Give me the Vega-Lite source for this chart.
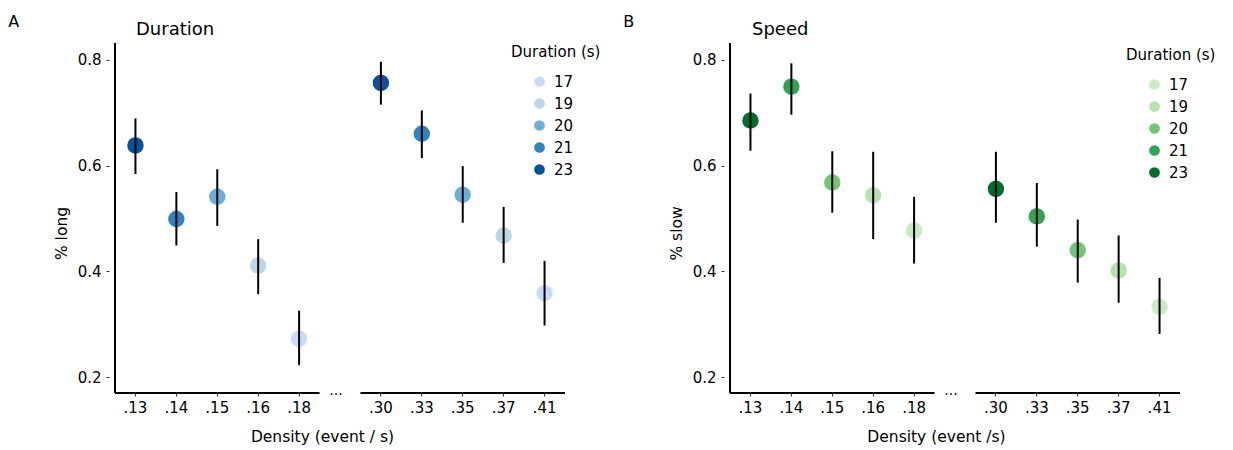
{
  "$schema": "https://vega.github.io/schema/vega-lite/v6.json",
  "padding": {"left": 8, "top": 14, "right": 0, "bottom": 0},
  "background": "white",
  "config": {
    "font": "DejaVu Sans",
    "view": {"stroke": null},
    "axis": {"grid": false, "labelColor": "black", "titleColor": "black", "tickColor": "#333", "domainColor": "black"},
    "legend": {"labelColor": "black", "titleColor": "black"}
  },
  "datasets": {
    "duration": [
      {"density": ".13", "dur": 23, "mean": 0.638, "lo": 0.584, "hi": 0.689},
      {"density": ".14", "dur": 21, "mean": 0.499, "lo": 0.449, "hi": 0.550},
      {"density": ".15", "dur": 20, "mean": 0.541, "lo": 0.486, "hi": 0.593},
      {"density": ".16", "dur": 19, "mean": 0.411, "lo": 0.357, "hi": 0.461},
      {"density": ".18", "dur": 17, "mean": 0.273, "lo": 0.223, "hi": 0.326},
      {"density": ".30", "dur": 23, "mean": 0.756, "lo": 0.715, "hi": 0.796},
      {"density": ".33", "dur": 21, "mean": 0.660, "lo": 0.614, "hi": 0.704},
      {"density": ".35", "dur": 20, "mean": 0.545, "lo": 0.492, "hi": 0.599},
      {"density": ".37", "dur": 19, "mean": 0.468, "lo": 0.416, "hi": 0.522},
      {"density": ".41", "dur": 17, "mean": 0.359, "lo": 0.298, "hi": 0.420}
    ],
    "speed": [
      {"density": ".13", "dur": 23, "mean": 0.685, "lo": 0.628, "hi": 0.736},
      {"density": ".14", "dur": 21, "mean": 0.749, "lo": 0.696, "hi": 0.793},
      {"density": ".15", "dur": 20, "mean": 0.568, "lo": 0.511, "hi": 0.627},
      {"density": ".16", "dur": 19, "mean": 0.544, "lo": 0.461, "hi": 0.626},
      {"density": ".18", "dur": 17, "mean": 0.477, "lo": 0.415, "hi": 0.541},
      {"density": ".30", "dur": 23, "mean": 0.556, "lo": 0.492, "hi": 0.626},
      {"density": ".33", "dur": 21, "mean": 0.504, "lo": 0.447, "hi": 0.567},
      {"density": ".35", "dur": 20, "mean": 0.440, "lo": 0.379, "hi": 0.498},
      {"density": ".37", "dur": 19, "mean": 0.402, "lo": 0.341, "hi": 0.468},
      {"density": ".41", "dur": 17, "mean": 0.333, "lo": 0.282, "hi": 0.388}
    ]
  },
  "spacing": 22,
  "resolve": {"scale": {"color": "independent", "x": "independent", "y": "independent"}, "legend": {"color": "independent"}},
  "hconcat": [
    {
      "title": {"text": "A", "anchor": "start", "fontSize": 16, "fontWeight": "normal", "dx": -46, "offset": -22, "baseline": "alphabetic"},
      "vconcat": [
        {
          "width": 450,
          "height": 350,
          "title": {"text": "Duration", "anchor": "start", "frame": "group", "dx": 21, "fontSize": 18, "fontWeight": "normal", "baseline": "alphabetic", "offset": -11},
          "data": {"name": "duration"},
          "encoding": {
            "x": {
              "field": "density", "type": "nominal",
              "scale": {"type": "band", "domain": [".13", ".14", ".15", ".16", ".18", "gap", ".30", ".33", ".35", ".37", ".41"], "paddingInner": 0, "paddingOuter": 0},
              "axis": {"values": [".13", ".14", ".15", ".16", ".18", ".30", ".33", ".35", ".37", ".41"], "domain": false, "labelAngle": 0, "tickSize": 3, "labelPadding": 4, "labelFontSize": 15, "title": "Density (event / s)", "titleFontSize": 15.5, "titleFontWeight": "normal", "titlePadding": 14, "titleX": 207}
            }
          },
          "layer": [
            {
              "mark": {"type": "circle", "size": 270, "opacity": 1},
              "encoding": {
                "y": {"field": "mean", "type": "quantitative", "scale": {"domain": [0.1705, 0.8314], "nice": false, "zero": false},
                  "axis": {"values": [0.2, 0.4, 0.6, 0.8], "format": ".1f", "title": "% long", "titleFontSize": 15.5, "titleFontWeight": "normal", "titlePadding": 8, "labelFontSize": 15, "tickSize": 3, "domain": false, "offset": 6, "labelPadding": 5, "titleY": 190}},
                "color": {"field": "dur", "type": "ordinal",
                  "scale": {"domain": [17, 19, 20, 21, 23], "range": ["#cadbfa", "#bdd7e7", "#6baed6", "#3182bd", "#08519c"]},
                  "legend": {"orient": "none", "legendX": 396, "legendY": 2, "title": "Duration (s)", "titleFontSize": 15, "titleFontWeight": "normal", "labelFontSize": 15, "symbolSize": 115, "symbolType": "circle", "symbolOffset": 21, "labelOffset": 7, "rowPadding": 6, "titlePadding": 14, "padding": 0}}
              }
            },
            {
              "mark": {"type": "rule", "strokeWidth": 2, "color": "black"},
              "encoding": {"y": {"field": "lo", "type": "quantitative"}, "y2": {"field": "hi"}}
            },
            {
              "data": {"values": [{}]},
              "mark": {"type": "rule", "strokeWidth": 2, "color": "black"},
              "encoding": {"x": {"datum": ".13", "bandPosition": 0}, "y": {"datum": 0.1705, "type": "quantitative"}, "y2": {"datum": 0.8314}}
            },
            {
              "data": {"values": [{}]},
              "mark": {"type": "rule", "strokeWidth": 1.8, "color": "black"},
              "encoding": {"x": {"datum": ".13", "bandPosition": 0}, "x2": {"datum": ".18", "bandPosition": 1}, "y": {"datum": 0.1705, "type": "quantitative"}}
            },
            {
              "data": {"values": [{}]},
              "mark": {"type": "rule", "strokeWidth": 1.8, "color": "black"},
              "encoding": {"x": {"datum": ".30", "bandPosition": 0}, "x2": {"datum": ".41", "bandPosition": 1}, "y": {"datum": 0.1705, "type": "quantitative"}}
            },
            {
              "data": {"values": [{}]},
              "mark": {"type": "text", "text": "...", "fontSize": 14, "baseline": "alphabetic", "dx": -4, "dy": 2, "color": "black"},
              "encoding": {"x": {"datum": "gap"}, "y": {"datum": 0.1705, "type": "quantitative"}}
            }
          ]
        }
      ]
    },
    {
      "title": {"text": "B", "anchor": "start", "fontSize": 16, "fontWeight": "normal", "dx": -46, "offset": -22, "baseline": "alphabetic"},
      "vconcat": [
        {
          "width": 450,
          "height": 350,
          "title": {"text": "Speed", "anchor": "start", "frame": "group", "dx": 22, "fontSize": 18, "fontWeight": "normal", "baseline": "alphabetic", "offset": -11},
          "data": {"name": "speed"},
          "encoding": {
            "x": {
              "field": "density", "type": "nominal",
              "scale": {"type": "band", "domain": [".13", ".14", ".15", ".16", ".18", "gap", ".30", ".33", ".35", ".37", ".41"], "paddingInner": 0, "paddingOuter": 0},
              "axis": {"values": [".13", ".14", ".15", ".16", ".18", ".30", ".33", ".35", ".37", ".41"], "domain": false, "labelAngle": 0, "tickSize": 3, "labelPadding": 4, "labelFontSize": 15, "title": "Density (event /s)", "titleFontSize": 15.5, "titleFontWeight": "normal", "titlePadding": 14, "titleX": 206}
            }
          },
          "layer": [
            {
              "mark": {"type": "circle", "size": 270, "opacity": 1},
              "encoding": {
                "y": {"field": "mean", "type": "quantitative", "scale": {"domain": [0.1705, 0.8314], "nice": false, "zero": false},
                  "axis": {"values": [0.2, 0.4, 0.6, 0.8], "format": ".1f", "title": "% slow", "titleFontSize": 15.5, "titleFontWeight": "normal", "titlePadding": 8, "labelFontSize": 15, "tickSize": 3, "domain": false, "offset": 6, "labelPadding": 5, "titleY": 190}},
                "color": {"field": "dur", "type": "ordinal",
                  "scale": {"domain": [17, 19, 20, 21, 23], "range": ["#c9ecc5", "#b6e2b0", "#74c476", "#31a354", "#006d2c"]},
                  "legend": {"orient": "none", "legendX": 396, "legendY": 5, "title": "Duration (s)", "titleFontSize": 15, "titleFontWeight": "normal", "labelFontSize": 15, "symbolSize": 115, "symbolType": "circle", "symbolOffset": 21, "labelOffset": 7, "rowPadding": 6, "titlePadding": 14, "padding": 0}}
              }
            },
            {
              "mark": {"type": "rule", "strokeWidth": 2, "color": "black"},
              "encoding": {"y": {"field": "lo", "type": "quantitative"}, "y2": {"field": "hi"}}
            },
            {
              "data": {"values": [{}]},
              "mark": {"type": "rule", "strokeWidth": 2, "color": "black"},
              "encoding": {"x": {"datum": ".13", "bandPosition": 0}, "y": {"datum": 0.1705, "type": "quantitative"}, "y2": {"datum": 0.8314}}
            },
            {
              "data": {"values": [{}]},
              "mark": {"type": "rule", "strokeWidth": 1.8, "color": "black"},
              "encoding": {"x": {"datum": ".13", "bandPosition": 0}, "x2": {"datum": ".18", "bandPosition": 1}, "y": {"datum": 0.1705, "type": "quantitative"}}
            },
            {
              "data": {"values": [{}]},
              "mark": {"type": "rule", "strokeWidth": 1.8, "color": "black"},
              "encoding": {"x": {"datum": ".30", "bandPosition": 0}, "x2": {"datum": ".41", "bandPosition": 1}, "y": {"datum": 0.1705, "type": "quantitative"}}
            },
            {
              "data": {"values": [{}]},
              "mark": {"type": "text", "text": "...", "fontSize": 14, "baseline": "alphabetic", "dx": -4, "dy": 2, "color": "black"},
              "encoding": {"x": {"datum": "gap"}, "y": {"datum": 0.1705, "type": "quantitative"}}
            }
          ]
        }
      ]
    }
  ]
}
